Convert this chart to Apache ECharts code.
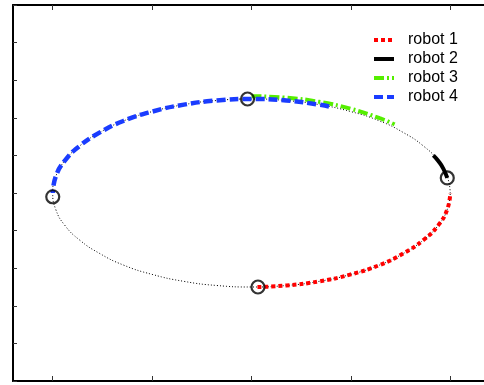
<!DOCTYPE html>
<html><head><meta charset="utf-8">
<script src="https://cdn.jsdelivr.net/npm/echarts@6/dist/echarts.min.js"></script>
<style>html,body{margin:0;padding:0;background:#fff;overflow:hidden}#c{width:490px;height:385px}</style>
</head><body><div id="c"></div>
<script>
// Reference ellipse (dotted black)
const ellipseX = [2.00,1.97,1.88,1.73,1.53,1.29,1.00,0.68,0.35,0.00,-0.35,-0.68,-1.00,-1.29,-1.53,-1.73,-1.88,-1.97,-2.00,-1.97,-1.88,-1.73,-1.53,-1.29,-1.00,-0.68,-0.35,0.00,0.35,0.68,1.00,1.29,1.53,1.73,1.88,1.97,2.00];
const ellipseY = [0.000,0.087,0.171,0.250,0.321,0.383,0.433,0.470,0.492,0.500,0.492,0.470,0.433,0.383,0.321,0.250,0.171,0.087,0.000,-0.087,-0.171,-0.250,-0.321,-0.383,-0.433,-0.470,-0.492,-0.500,-0.492,-0.470,-0.433,-0.383,-0.321,-0.250,-0.171,-0.087,0.000];
// Robot paths
const robot1X = [0.06,0.35,0.68,1.00,1.29,1.53,1.73,1.88,1.97,2.00];
const robot1Y = [-0.500,-0.492,-0.470,-0.433,-0.383,-0.321,-0.250,-0.171,-0.087,0.000];
const robot2X = [1.83,1.88,1.93,1.97];
const robot2Y = [0.20,0.17,0.13,0.08];
const robot3X = [0.00,0.35,0.68,1.00,1.29,1.44];
const robot3Y = [0.515,0.507,0.485,0.448,0.398,0.365];
const robot4X = [0.78,0.68,0.35,0.00,-0.35,-0.68,-1.00,-1.29,-1.53,-1.73,-1.88,-1.97,-2.00];
const robot4Y = [0.460,0.470,0.492,0.500,0.492,0.470,0.433,0.383,0.321,0.250,0.171,0.087,0.000];
// Robot positions (circles)
const posX = [1.97,-0.04,-2.00,0.065];
const posY = [0.08,0.50,-0.02,-0.50];
const xTicks = [-2,-1,0,1,2];
const names = ['robot 1','robot 2','robot 3','robot 4'];

const zip = (xs, ys) => xs.map((x,i)=>[x, ys[i]]);
const chart = echarts.init(document.getElementById('c'), null, {renderer:'canvas'});
const axisLine = {show:true, onZero:false, lineStyle:{color:'#000', width:2}};
chart.setOption({
  animation:false,
  backgroundColor:'#fff',
  grid:{left:13, top:5, right:0, bottom:4, containLabel:false},
  xAxis:[
    {type:'value', min:-2.4, max:2.4, axisLine, splitLine:{show:false},
     axisTick:{show:true, inside:true, length:5, customValues:xTicks, lineStyle:{color:'#333', width:1}},
     axisLabel:{show:false}},
    {type:'value', position:'top', min:-2.4, max:2.4, axisLine, splitLine:{show:false},
     axisTick:{show:true, inside:true, length:5, customValues:xTicks, lineStyle:{color:'#333', width:1}},
     axisLabel:{show:false}}
  ],
  yAxis:[
    {type:'value', min:-1, max:1, interval:0.2, axisLine, splitLine:{show:false},
     axisTick:{show:true, inside:true, length:4, lineStyle:{color:'#333', width:1}},
     axisLabel:{show:false}},
    {type:'value', position:'right', min:-1, max:1, interval:0.2, axisLine, splitLine:{show:false},
     axisTick:{show:true, inside:true, length:4, lineStyle:{color:'#333', width:1}},
     axisLabel:{show:false}}
  ],
  legend:{
    orient:'vertical', left:367, top:27, itemWidth:20, itemHeight:14, itemGap:3,
    data:names,
    itemStyle:{opacity:0},
    lineStyle:{width:4},
    textStyle:{fontFamily:'Liberation Sans', fontSize:16, color:'#000', padding:[0,0,0,9]}
  },
  series:[
    {type:'line', name:'ellipse', data:zip(ellipseX, ellipseY), smooth:true, symbol:'none',
     lineStyle:{color:'#000', width:1, type:[1,2]}, z:1},
    {type:'line', name:'robot 1', data:zip(robot1X, robot1Y), smooth:true, symbol:'none',
     itemStyle:{color:'#ff0000'}, lineStyle:{color:'#ff0000', width:4, type:[4,3]}, z:2},
    {type:'line', name:'robot 2', data:zip(robot2X, robot2Y), smooth:true, symbol:'none',
     itemStyle:{color:'#000'}, lineStyle:{color:'#000', width:4, type:'solid'}, z:2},
    {type:'line', name:'robot 3', data:zip(robot3X, robot3Y), smooth:true, symbol:'none',
     itemStyle:{color:'#55ee00'}, lineStyle:{color:'#55ee00', width:4, type:[10,3,2,3]}, z:3},
    {type:'line', name:'robot 4', data:zip(robot4X, robot4Y), smooth:true, symbol:'none',
     itemStyle:{color:'#1a3cff'}, lineStyle:{color:'#1a3cff', width:4.5, type:[9,4]}, z:4},
    {type:'scatter', name:'pos', data:zip(posX, posY), symbol:'circle', symbolSize:13,
     itemStyle:{color:'rgba(0,0,0,0)', borderColor:'#000', borderWidth:2.2}, z:5}
  ]
});
</script></body></html>
